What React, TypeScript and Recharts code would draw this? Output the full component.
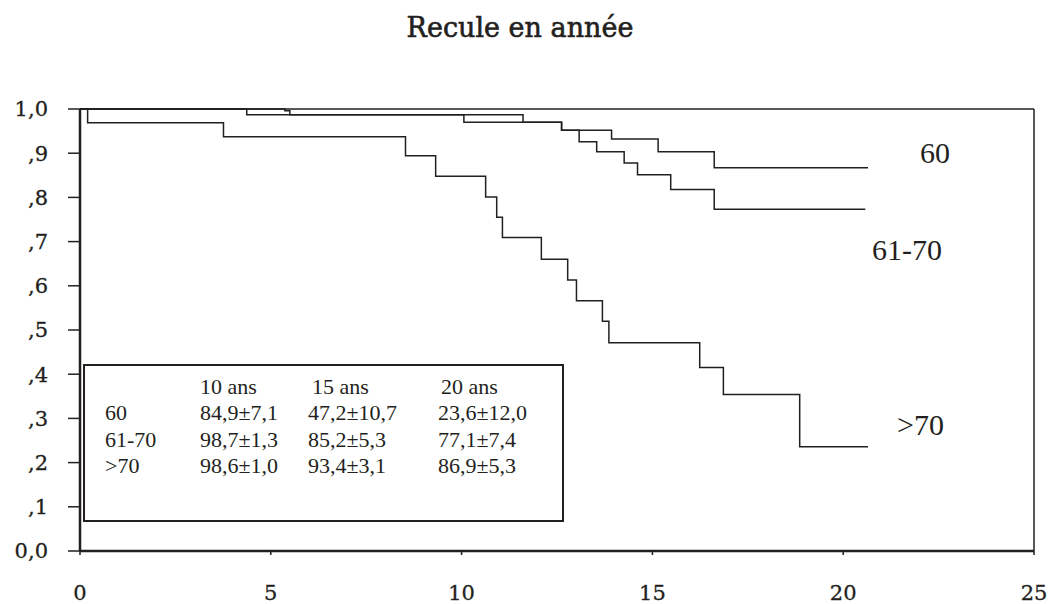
import { LineChart, Line, XAxis, YAxis, ReferenceLine } from "recharts";

const TITLE = "Recule en année";

const X_TICKS = [0, 5, 10, 15, 20, 25];
const Y_TICKS = [0, 0.1, 0.2, 0.3, 0.4, 0.5, 0.6, 0.7, 0.8, 0.9, 1.0];

// survival steps (time in years, cumulative survival)
const T_60 = [0, 5.37, 5.5, 11.61, 12.62, 13.93, 15.15, 16.62, 20.65];
const S_60 = [1, 0.996, 0.987, 0.97, 0.952, 0.932, 0.903, 0.867, 0.867];

const T_61_70 = [0, 4.37, 10.06, 12.62, 13.08, 13.54, 14.26, 14.61, 15.48, 16.62, 20.58];
const S_61_70 = [1, 0.987, 0.97, 0.952, 0.926, 0.903, 0.878, 0.851, 0.818, 0.773, 0.773];

const T_70 = [0, 0.2, 3.76, 8.53, 9.32, 10.63, 10.92, 11.07, 12.09, 12.78, 13.01, 13.69, 13.86, 16.24, 16.86, 18.86, 20.65];
const S_70 = [1, 0.969, 0.937, 0.894, 0.848, 0.801, 0.755, 0.709, 0.66, 0.613, 0.566, 0.52, 0.471, 0.415, 0.354, 0.236, 0.236];

const CURVE_LABELS = ["60", "61-70", ">70"];

const TABLE_HEAD = ["10 ans", "15 ans", "20 ans"];
const TABLE_ROWS = ["60", "61-70", ">70"];
const TABLE_VALUES = [
  ["84,9±7,1", "47,2±10,7", "23,6±12,0"],
  ["98,7±1,3", "85,2±5,3", "77,1±7,4"],
  ["98,6±1,0", "93,4±3,1", "86,9±5,3"],
];

const INK = "#231f20";
const TICK_FONT = "'DejaVu Serif', serif";
const TEXT_FONT = "'Liberation Serif', 'Times New Roman', serif";

const toPoints = (t: number[], s: number[]) => t.map((x, i) => ({ t: x, s: s[i] }));

const series = [
  { key: "60", data: toPoints(T_60, S_60) },
  { key: "61-70", data: toPoints(T_61_70, S_61_70) },
  { key: ">70", data: toPoints(T_70, S_70) },
];

const fmtY = (v: number) => {
  if (v === 0) return "0,0";
  if (v === 1) return "1,0";
  return "," + Math.round(v * 10);
};

export default function App() {
  const tickStyle = {
    fill: INK,
    stroke: INK,
    strokeWidth: 0.3,
    fontSize: 21,
    fontFamily: TICK_FONT,
  };
  const headX = [200, 312, 441];
  const valX = [200, 308, 438];
  const rowY = [419.5, 446.5, 473];
  const labelPos = [
    { x: 920, y: 163 },
    { x: 872, y: 260 },
    { x: 897, y: 435 },
  ];

  return (
    <div style={{ position: "absolute", left: 0, top: 0, width: 1054, height: 604, background: "#fff" }}>
      <LineChart
        width={1054}
        height={604}
        margin={{ top: 109, right: 20, bottom: 0, left: 20 }}
      >
        <XAxis
          type="number"
          dataKey="t"
          domain={[0, 25]}
          ticks={X_TICKS}
          allowDataOverflow
          height={53}
          tickSize={4}
          tickMargin={30}
          tick={tickStyle}
          axisLine={{ stroke: INK, strokeWidth: 2.5 }}
          tickLine={{ stroke: INK, strokeWidth: 1.5 }}
        />
        <YAxis
          type="number"
          domain={[0, 1]}
          ticks={Y_TICKS}
          width={60}
          tickSize={12}
          tickMargin={20}
          tickFormatter={fmtY}
          tick={tickStyle}
          axisLine={{ stroke: INK, strokeWidth: 2.5 }}
          tickLine={{ stroke: INK, strokeWidth: 1.5 }}
        />
        <ReferenceLine y={1} stroke={INK} strokeWidth={1.5} />
        <ReferenceLine x={25} stroke={INK} strokeWidth={1.5} />
        {series.map((s) => (
          <Line
            key={s.key}
            data={s.data}
            dataKey="s"
            name={s.key}
            type="stepAfter"
            stroke={INK}
            strokeWidth={1.5}
            dot={false}
            activeDot={false}
            isAnimationActive={false}
          />
        ))}
      </LineChart>

      <svg
        width={1054}
        height={604}
        style={{ position: "absolute", left: 0, top: 0, pointerEvents: "none" }}
      >
        <text
          x={520}
          y={37}
          textAnchor="middle"
          fontFamily={TICK_FONT}
          fontSize={27}
          fill={INK}
          stroke={INK}
          strokeWidth={0.6}
        >
          {TITLE}
        </text>

        {CURVE_LABELS.map((l, i) => (
          <text key={l} x={labelPos[i].x} y={labelPos[i].y} fontFamily={TEXT_FONT} fontSize={30} fill={INK}>
            {l}
          </text>
        ))}

        <rect x={84} y={365} width={479} height={156} fill="#fff" stroke={INK} strokeWidth={2} />
        {TABLE_HEAD.map((h, i) => (
          <text key={h} x={headX[i]} y={394} fontFamily={TEXT_FONT} fontSize={22} fill={INK}>
            {h}
          </text>
        ))}
        {TABLE_ROWS.map((r, i) => (
          <g key={r}>
            <text x={105} y={rowY[i]} fontFamily={TEXT_FONT} fontSize={22} fill={INK}>
              {r}
            </text>
            {TABLE_VALUES[i].map((v, j) => (
              <text key={j} x={valX[j]} y={rowY[i]} fontFamily={TEXT_FONT} fontSize={22} fill={INK}>
                {v}
              </text>
            ))}
          </g>
        ))}
      </svg>
    </div>
  );
}
